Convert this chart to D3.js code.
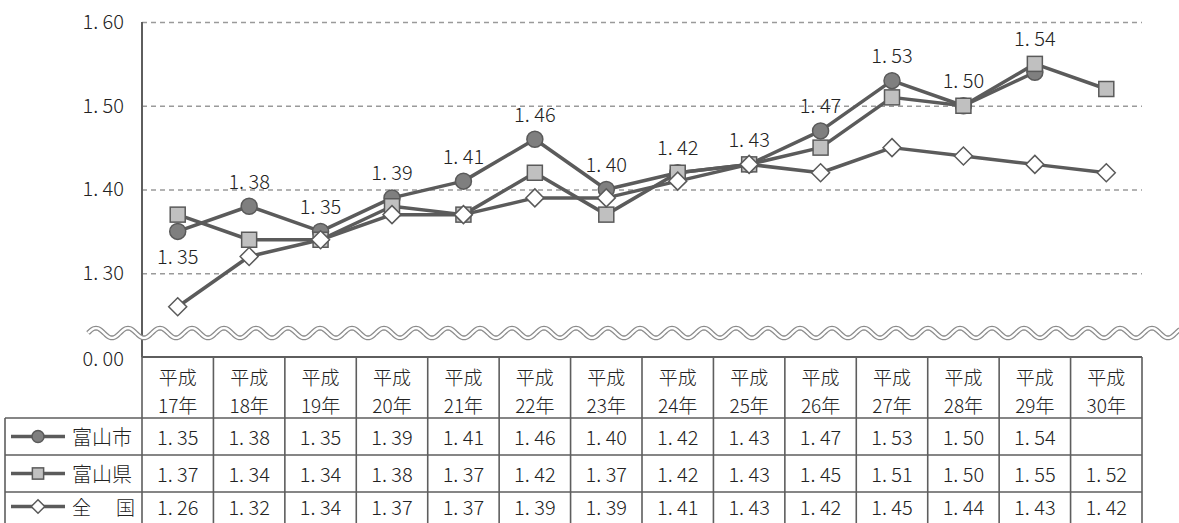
<!DOCTYPE html>
<html>
<head>
<meta charset="utf-8">
<script src="https://cdn.jsdelivr.net/npm/d3@7"></script>
<style>
  body { margin: 0; background: #fff; }
  svg { display: block; font-family: "Noto Sans CJK JP", sans-serif; font-weight: 300; }
</style>
</head>
<body>
<div id="chart"></div>
<script>
// データ
const eraLabel = "平成";
const years = ["17年", "18年", "19年", "20年", "21年", "22年", "23年", "24年", "25年", "26年", "27年", "28年", "29年", "30年"];
const toyamaCity = [1.35, 1.38, 1.35, 1.39, 1.41, 1.46, 1.40, 1.42, 1.43, 1.47, 1.53, 1.50, 1.54, null];
const toyamaPref = [1.37, 1.34, 1.34, 1.38, 1.37, 1.42, 1.37, 1.42, 1.43, 1.45, 1.51, 1.50, 1.55, 1.52];
const national = [1.26, 1.32, 1.34, 1.37, 1.37, 1.39, 1.39, 1.41, 1.43, 1.42, 1.45, 1.44, 1.43, 1.42];
const seriesNames = ["富山市", "富山県", "全\u3000国"];
const yTicks = [1.3, 1.4, 1.5, 1.6];
const yDomain = [1.2, 1.6];
const zeroLabel = "0. 00";

const width = 1179, height = 523;
const plot = { left: 142, right: 1142, top: 22, bottom: 357 };
const table = { left: 5, headerBottom: 418, rowH: 37 };
const lineColor = "#5b5b5b";
const borderColor = "#5e5e5e";
const numSize = 20;

const fmt = (v) => v.toFixed(2).replace(".", ". ");

const svg = d3.select("#chart").append("svg")
  .attr("width", width)
  .attr("height", height);

const x = d3.scaleBand().domain(years).range([plot.left, plot.right]);
const y = d3.scaleLinear().domain(yDomain).range([plot.bottom, plot.top]);
const cx = (i) => x(years[i]) + x.bandwidth() / 2;

// グリッドと目盛
const yAxis = svg.append("g")
  .attr("transform", `translate(${plot.left},0)`)
  .call(d3.axisLeft(y).tickValues(yTicks).tickSize(-(plot.right - plot.left)).tickPadding(18).tickFormat(fmt));
yAxis.select(".domain").remove();
yAxis.selectAll(".tick line")
  .attr("stroke", "#9a9a9a")
  .attr("stroke-width", 1.3)
  .attr("stroke-dasharray", "5,4");
yAxis.selectAll(".tick text")
  .attr("font-size", numSize)
  .attr("fill", "#222")
  .attr("font-family", "Noto Sans CJK JP");

svg.append("text")
  .attr("x", plot.left - 18)
  .attr("y", y(yDomain[0]))
  .attr("text-anchor", "end")
  .attr("dominant-baseline", "central")
  .attr("font-size", numSize)
  .attr("fill", "#222")
  .text(zeroLabel);

// 軸線
svg.append("line")
  .attr("x1", plot.left).attr("x2", plot.left)
  .attr("y1", plot.top).attr("y2", plot.bottom)
  .attr("stroke", borderColor).attr("stroke-width", 2);

// 波線 (省略記号)
const wavePts = d3.range(88, width + 2, 2).map((px) => [px, 333 + 5 * Math.sin((px - 88) / 32 * 2 * Math.PI + Math.PI)]);
const wave = d3.line().curve(d3.curveBasis);
svg.append("path").attr("d", wave(wavePts)).attr("fill", "none").attr("stroke", "#8c8c8c").attr("stroke-width", 5);
svg.append("path").attr("d", wave(wavePts)).attr("fill", "none").attr("stroke", "#fff").attr("stroke-width", 2.4);

// マーカー
function drawMarker(g, type, px, py, s) {
  if (type === "circle") {
    g.append("circle").attr("cx", px).attr("cy", py).attr("r", 8 * s)
      .attr("fill", "#7f7f7f").attr("stroke", "#5a5a5a").attr("stroke-width", 1.5);
  } else if (type === "square") {
    const h = 7.5 * s;
    g.append("rect").attr("x", px - h).attr("y", py - h).attr("width", 2 * h).attr("height", 2 * h)
      .attr("fill", "#c0c0c0").attr("stroke", "#5a5a5a").attr("stroke-width", 1.5);
  } else {
    const h = 9 * s;
    g.append("path").attr("d", `M${px},${py - h}L${px + h},${py}L${px},${py + h}L${px - h},${py}Z`)
      .attr("fill", "#fff").attr("stroke", "#5a5a5a").attr("stroke-width", 1.5);
  }
}

const series = [
  { values: toyamaCity, marker: "circle" },
  { values: toyamaPref, marker: "square" },
  { values: national, marker: "diamond" }
];

const line = d3.line()
  .defined((d) => d != null)
  .x((d, i) => cx(i))
  .y((d) => y(d));

series.forEach((s) => {
  const g = svg.append("g");
  g.append("path")
    .attr("d", line(s.values))
    .attr("fill", "none")
    .attr("stroke", lineColor)
    .attr("stroke-width", 3.5)
    .attr("stroke-linejoin", "round");
  s.values.forEach((v, i) => {
    if (v != null) drawMarker(g, s.marker, cx(i), y(v), 1);
  });
});

// 富山市のデータラベル
toyamaCity.forEach((v, i) => {
  if (v == null) return;
  const top = Math.max(v, toyamaPref[i]);
  const ly = i === 0 ? y(v) + 24 : y(top) - 26;
  svg.append("text")
    .attr("x", cx(i))
    .attr("y", ly)
    .attr("text-anchor", "middle")
    .attr("dominant-baseline", "central")
    .attr("font-size", numSize)
    .attr("fill", "#222")
    .text(fmt(v));
});

// データテーブル
const tbl = svg.append("g");
const rowsTop = table.headerBottom;
const tableBottom = rowsTop + table.rowH * 3;

// 見出し
years.forEach((yr, i) => {
  tbl.append("text").attr("x", cx(i)).attr("y", 376).attr("text-anchor", "middle")
    .attr("dominant-baseline", "central").attr("font-size", 19).attr("fill", "#222").text(eraLabel);
  tbl.append("text").attr("x", cx(i)).attr("y", 404).attr("text-anchor", "middle")
    .attr("dominant-baseline", "central").attr("font-size", 19).attr("fill", "#222").text(yr);
});

// 値 (最終行は画面下端に収まるよう少し上げる)
series.forEach((s, r) => {
  const rowMid = rowsTop + table.rowH * r + table.rowH / 2 - (r === 2 ? 4 : 0);
  s.values.forEach((v, i) => {
    if (v == null) return;
    tbl.append("text").attr("x", cx(i)).attr("y", rowMid).attr("text-anchor", "middle")
      .attr("dominant-baseline", "central").attr("font-size", numSize).attr("fill", "#222").text(fmt(v));
  });
  // 凡例
  tbl.append("line").attr("x1", 11).attr("x2", 65).attr("y1", rowMid).attr("y2", rowMid)
    .attr("stroke", lineColor).attr("stroke-width", 3.5);
  drawMarker(tbl, s.marker, 38, rowMid, 0.75);
  if (r === 2) {
    tbl.append("text").attr("x", 72).attr("y", rowMid).attr("dominant-baseline", "central")
      .attr("font-size", 19).attr("fill", "#222").text("全");
    tbl.append("text").attr("x", 135).attr("y", rowMid).attr("text-anchor", "end").attr("dominant-baseline", "central")
      .attr("font-size", 19).attr("fill", "#222").text("国");
  } else {
    tbl.append("text").attr("x", 72).attr("y", rowMid).attr("dominant-baseline", "central")
      .attr("font-size", 20).attr("fill", "#222").text(seriesNames[r]);
  }
});

// 罫線
const hLines = [0, 1, 2, 3].map((k) => rowsTop + table.rowH * k);
hLines.forEach((hy) => {
  tbl.append("line").attr("x1", table.left).attr("x2", plot.right).attr("y1", hy).attr("y2", hy)
    .attr("stroke", borderColor).attr("stroke-width", 1.6);
});
tbl.append("line").attr("x1", plot.left).attr("x2", plot.right).attr("y1", plot.bottom).attr("y2", plot.bottom)
  .attr("stroke", borderColor).attr("stroke-width", 2);
tbl.append("line").attr("x1", table.left).attr("x2", table.left).attr("y1", rowsTop).attr("y2", tableBottom)
  .attr("stroke", borderColor).attr("stroke-width", 1.6);
years.forEach((yr, i) => {
  tbl.append("line").attr("x1", x(yr)).attr("x2", x(yr)).attr("y1", plot.bottom).attr("y2", tableBottom)
    .attr("stroke", borderColor).attr("stroke-width", 1.6);
});
tbl.append("line").attr("x1", plot.right).attr("x2", plot.right).attr("y1", plot.bottom).attr("y2", tableBottom)
  .attr("stroke", borderColor).attr("stroke-width", 1.6);
</script>
</body>
</html>
